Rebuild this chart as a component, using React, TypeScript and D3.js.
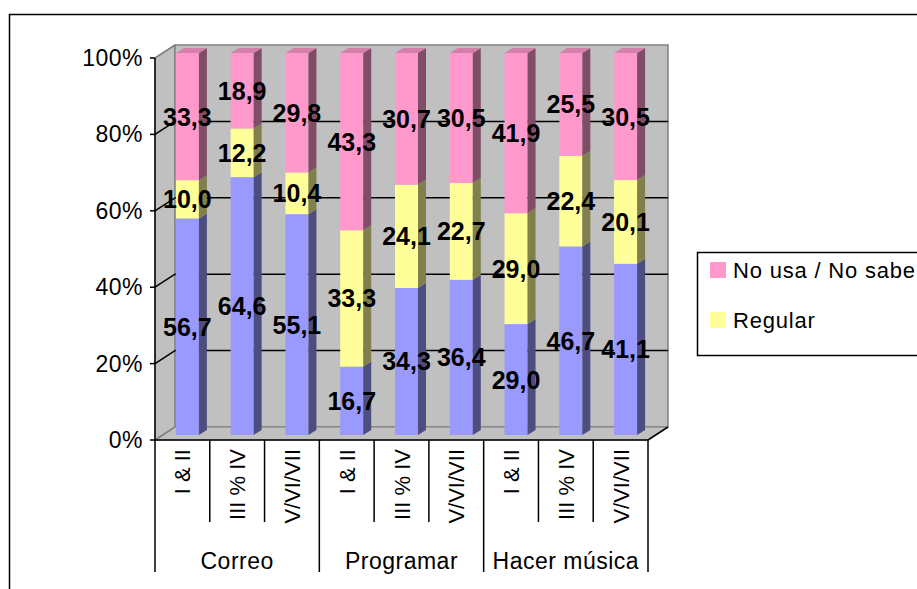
import React, { useEffect, useRef } from 'react';
import * as d3 from 'd3';

// categories
const groups = ['Correo', 'Programar', 'Hacer música'];
const levels = ['I & II', 'III % IV', 'V/VI/VII'];

// series values (one entry per group/level, left to right)
const bajoValues = [56.7, 64.6, 55.1, 16.7, 34.3, 36.4, 29.0, 46.7, 41.1];
const regularValues = [10.0, 12.2, 10.4, 33.3, 24.1, 22.7, 29.0, 22.4, 20.1];
const noUsaValues = [33.3, 18.9, 29.8, 43.3, 30.7, 30.5, 41.9, 25.5, 30.5];

const yTicks = [0, 0.2, 0.4, 0.6, 0.8, 1];
const legendItems = ['No usa / No sabe', 'Regular'];

const seriesKeys = ['bajo', 'regular', 'noUsa'];
const faceColors: Record<string, string> = { bajo: '#9999ff', regular: '#ffff99', noUsa: '#ff99cc' };
const sideColors: Record<string, string> = { bajo: '#4d4d80', regular: '#80804d', noUsa: '#804d66' };
const topColors: Record<string, string> = { bajo: '#7a7acc', regular: '#cccc7a', noUsa: '#d580aa' };

const App = () => {
  const svgRef = useRef<SVGSVGElement>(null);

  useEffect(() => {
    if (!svgRef.current) return;
    const svg = d3.select(svgRef.current);
    svg.selectAll('*').remove();

    const font = "'Liberation Sans', Arial, sans-serif";
    const left = 155, right = 648, bottom = 440, top = 58;
    const depthX = 20, depthY = -13; // back wall offset
    const barDx = 5, barDy = -5; // bar front face offset
    const sideDx = 8, sideDy = -5; // bar depth
    const barW = 23;

    const cats = d3.range(bajoValues.length).map(i => `${groups[Math.floor(i / 3)]}|${levels[i % 3]}`);
    const rows = cats.map((c, i) => ({ cat: c, bajo: bajoValues[i], regular: regularValues[i], noUsa: noUsaValues[i] }));

    const x = d3.scaleBand().domain(cats).range([left, right]);
    const y = d3.scaleLinear().domain([0, 1]).range([bottom, top]);

    const stack = d3.stack<any>().keys(seriesKeys).offset(d3.stackOffsetExpand);
    const stacked = stack(rows);

    // outer frame
    svg.append('rect')
      .attr('x', 9.5).attr('y', 14.5)
      .attr('width', 1000).attr('height', 700)
      .attr('fill', 'white').attr('stroke', 'black').attr('stroke-width', 1.5);

    const wall = '#c0c0c0', wallStroke = '#808080';

    // side wall
    svg.append('polygon')
      .attr('points', [[left, y(1)], [left + depthX, y(1) + depthY], [left + depthX, y(0) + depthY], [left, y(0)]].join(' '))
      .attr('fill', wall).attr('stroke', wallStroke);

    // back wall
    svg.append('rect')
      .attr('x', left + depthX).attr('y', y(1) + depthY)
      .attr('width', right - left).attr('height', y(0) - y(1))
      .attr('fill', wall).attr('stroke', wallStroke).attr('stroke-width', 1.5);

    // floor
    svg.append('polygon')
      .attr('points', [[left, y(0)], [left + depthX, y(0) + depthY], [right + depthX, y(0) + depthY], [right, y(0)]].join(' '))
      .attr('fill', wall).attr('stroke', wallStroke);

    // gridlines
    yTicks.forEach(t => {
      const inner = t > 0 && t < 1;
      const col = inner ? 'black' : wallStroke;
      svg.append('line')
        .attr('x1', left).attr('y1', y(t))
        .attr('x2', left + depthX).attr('y2', y(t) + depthY)
        .attr('stroke', col).attr('stroke-width', 1.5);
      if (inner) {
        svg.append('line')
          .attr('x1', left + depthX).attr('y1', y(t) + depthY)
          .attr('x2', right + depthX).attr('y2', y(t) + depthY)
          .attr('stroke', 'black').attr('stroke-width', 1.5);
      }
    });

    // bars
    cats.forEach((c, i) => {
      const x0 = x(c)! + x.bandwidth() / 2 - barW / 2 + barDx;
      const x1 = x0 + barW;
      stacked.forEach((s, si) => {
        const key = s.key;
        const [v0, v1] = s[i];
        const yb = y(v0) + barDy;
        const yt = y(v1) + barDy;
        svg.append('rect')
          .attr('x', x0).attr('y', yt)
          .attr('width', barW).attr('height', yb - yt)
          .attr('fill', faceColors[key]);
        svg.append('polygon')
          .attr('points', [[x1, yt], [x1 + sideDx, yt + sideDy], [x1 + sideDx, yb + sideDy], [x1, yb]].join(' '))
          .attr('fill', sideColors[key]);
        if (si === stacked.length - 1) {
          svg.append('polygon')
            .attr('points', [[x0, yt], [x0 + sideDx, yt + sideDy], [x1 + sideDx, yt + sideDy], [x1, yt]].join(' '))
            .attr('fill', topColors[key]);
        }
      });
    });

    // axes
    svg.append('line')
      .attr('x1', left).attr('y1', y(1)).attr('x2', left).attr('y2', y(0))
      .attr('stroke', 'black').attr('stroke-width', 1.5);
    svg.append('line')
      .attr('x1', left).attr('y1', y(0)).attr('x2', right).attr('y2', y(0))
      .attr('stroke', 'black').attr('stroke-width', 1.5);
    svg.append('line')
      .attr('x1', right).attr('y1', y(0)).attr('x2', right + depthX).attr('y2', y(0) + depthY)
      .attr('stroke', 'black').attr('stroke-width', 1.5);

    yTicks.forEach(t => {
      svg.append('line')
        .attr('x1', left - 5).attr('y1', y(t)).attr('x2', left).attr('y2', y(t))
        .attr('stroke', 'black').attr('stroke-width', 1.5);
      svg.append('text')
        .attr('x', left - 12).attr('y', y(t) + 8)
        .attr('text-anchor', 'end')
        .attr('font-family', font).attr('font-size', 23).attr('letter-spacing', 0.5)
        .attr('fill', 'black')
        .text(d3.format('.0%')(t));
    });

    // category separators
    cats.forEach((c, i) => {
      const xs = x(c)!;
      const isGroup = i % 3 === 0;
      svg.append('line')
        .attr('x1', xs).attr('y1', y(0)).attr('x2', xs).attr('y2', isGroup ? 572 : 522)
        .attr('stroke', 'black').attr('stroke-width', 1.5);
    });
    svg.append('line')
      .attr('x1', right).attr('y1', y(0)).attr('x2', right).attr('y2', 572)
      .attr('stroke', 'black').attr('stroke-width', 1.5);

    // level labels (rotated)
    cats.forEach((c, i) => {
      const cx = x(c)! + x.bandwidth() / 2;
      svg.append('text')
        .attr('transform', `translate(${cx + 8},${449}) rotate(-90)`)
        .attr('text-anchor', 'end')
        .attr('font-family', font).attr('font-size', 22)
        .attr('fill', 'black')
        .text(levels[i % 3]);
    });

    // group labels
    groups.forEach((g, gi) => {
      const gx = x(cats[gi * 3])! + x.bandwidth() * 1.5;
      svg.append('text')
        .attr('x', gx).attr('y', 569)
        .attr('text-anchor', 'middle')
        .attr('font-family', font).attr('font-size', 23).attr('letter-spacing', 0.5)
        .attr('fill', 'black')
        .text(g);
    });

    // data labels
    const raw: Record<string, number[]> = { bajo: bajoValues, regular: regularValues, noUsa: noUsaValues };
    stacked.forEach(s => {
      cats.forEach((c, i) => {
        const [v0, v1] = s[i];
        const cx = x(c)! + x.bandwidth() / 2 + barDx;
        const cy = y((v0 + v1) / 2) + barDy;
        svg.append('text')
          .attr('x', cx).attr('y', cy + 9)
          .attr('text-anchor', 'middle')
          .attr('font-family', font).attr('font-size', 25).attr('font-weight', 'bold')
          .attr('fill', 'black')
          .text(d3.format('.1f')(raw[s.key][i]).replace('.', ','));
      });
    });

    // legend
    svg.append('rect')
      .attr('x', 697.5).attr('y', 252.5)
      .attr('width', 300).attr('height', 103)
      .attr('fill', 'white').attr('stroke', 'black').attr('stroke-width', 1.5);
    const legendKeys = ['noUsa', 'regular'];
    legendItems.forEach((name, li) => {
      const ly = 270 + li * 50;
      svg.append('rect')
        .attr('x', 710).attr('y', ly - 8)
        .attr('width', 16).attr('height', 16)
        .attr('fill', faceColors[legendKeys[li]]);
      svg.append('text')
        .attr('x', 733).attr('y', ly + 8)
        .attr('font-family', font).attr('font-size', 22).attr('letter-spacing', 0.8)
        .attr('fill', 'black')
        .text(name);
    });
  }, []);

  return (
    <svg ref={svgRef} width={917} height={589}
      style={{ position: 'absolute', left: 0, top: 0, background: 'white' }} />
  );
};

export default App;
